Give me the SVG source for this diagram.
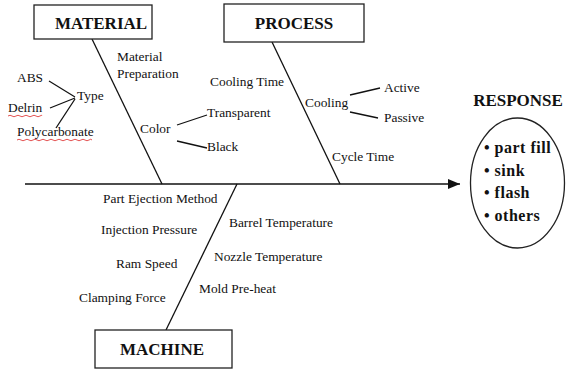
<svg xmlns="http://www.w3.org/2000/svg" width="566" height="370" viewBox="0 0 566 370">
<defs>
<style>
.box{fill:#fff;stroke:#222;stroke-width:1.3}
.ln{stroke:#111;stroke-width:1.3;fill:none}
.hd{font-family:"Liberation Serif",serif;font-weight:bold;font-size:17px;fill:#111;text-anchor:middle}
.t{font-family:"Liberation Serif",serif;font-size:13.4px;fill:#111}
.r{font-family:"Liberation Serif",serif;font-weight:bold;font-size:16px;fill:#111;letter-spacing:0.5px}
.sq{stroke:#e04040;stroke-width:0.9;fill:none}
</style>
<marker id="ah" markerWidth="12" markerHeight="10" refX="12" refY="5" orient="auto" markerUnits="userSpaceOnUse">
<path d="M0,0 L12,5 L0,10 Z" fill="#111"/>
</marker>
</defs>
<rect width="566" height="370" fill="#fff"/>
<g id="connectors">
<line class="ln" x1="25" y1="184" x2="460" y2="184" marker-end="url(#ah)"/>
<line class="ln" x1="92" y1="39" x2="162" y2="184"/>
<line class="ln" x1="272" y1="42" x2="340" y2="184"/>
<line class="ln" x1="237" y1="184" x2="166" y2="330"/>
<line class="ln" x1="49" y1="81" x2="75" y2="97"/>
<line class="ln" x1="50" y1="108" x2="75" y2="98"/>
<line class="ln" x1="56" y1="128" x2="75" y2="99"/>
<line class="ln" x1="177" y1="125" x2="207" y2="115"/>
<line class="ln" x1="177" y1="141" x2="207" y2="148"/>
<line class="ln" x1="350" y1="95" x2="380" y2="88"/>
<line class="ln" x1="350" y1="112" x2="378" y2="118"/>
</g>
<g id="material">
<rect class="box" x="34" y="5" width="118" height="34"/>
<text class="hd" x="101" y="29">MATERIAL</text>
</g>
<g id="process">
<rect class="box" x="224" y="4" width="140" height="38"/>
<text class="hd" x="294" y="29">PROCESS</text>
</g>
<g id="machine">
<rect class="box" x="95" y="330" width="137" height="38"/>
<text class="hd" x="162" y="355">MACHINE</text>
</g>
<g id="material-causes">
<text class="t" x="117" y="61">Material</text>
<text class="t" x="117" y="78">Preparation</text>
<text class="t" x="17" y="82">ABS</text>
<text class="t" x="77" y="100">Type</text>
<text class="t" x="8" y="112">Delrin</text>
<text class="t" x="17" y="136">Polycarbonate</text>
<path class="sq" d="M8,116 q2,-1.5 4,0 t4,0 t4,0 t4,0 t4,0 t4,0 t4,0 t4,0 t2,0"/>
<path class="sq" d="M17,140 q2,-1.5 4,0 t4,0 t4,0 t4,0 t4,0 t4,0 t4,0 t4,0 t4,0 t4,0 t4,0 t4,0 t4,0 t4,0 t4,0 t4,0 t4,0 t4,0 t3,0"/>
<text class="t" x="140" y="133">Color</text>
<text class="t" x="207" y="117">Transparent</text>
<text class="t" x="207" y="151">Black</text>
</g>
<g id="process-causes">
<text class="t" x="210" y="86">Cooling Time</text>
<text class="t" x="305" y="107">Cooling</text>
<text class="t" x="384" y="92">Active</text>
<text class="t" x="384" y="122">Passive</text>
<text class="t" x="332" y="161">Cycle Time</text>
</g>
<g id="machine-causes">
<text class="t" x="103" y="203">Part Ejection Method</text>
<text class="t" x="101" y="234">Injection Pressure</text>
<text class="t" x="116" y="268">Ram Speed</text>
<text class="t" x="79" y="302">Clamping Force</text>
<text class="t" x="229" y="227">Barrel Temperature</text>
<text class="t" x="214" y="261">Nozzle Temperature</text>
<text class="t" x="199" y="293">Mold Pre-heat</text>
</g>
<g id="response">
<text class="hd" x="518" y="106">RESPONSE</text>
<ellipse class="box" cx="517.5" cy="183" rx="47" ry="65" style="fill:none"/>
<text class="r" x="484" y="153">• part fill</text>
<text class="r" x="484" y="176">• sink</text>
<text class="r" x="484" y="198">• flash</text>
<text class="r" x="484" y="221">• others</text>
</g>
</svg>
